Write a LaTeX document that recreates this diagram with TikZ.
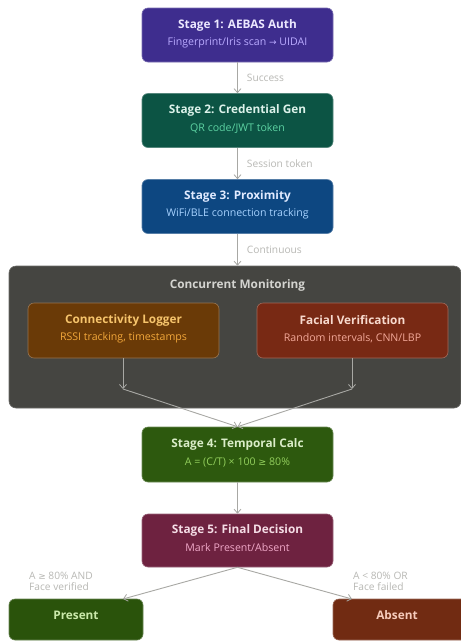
\documentclass[tikz,border=0pt]{standalone}
\usepackage{fontspec}
\setmainfont{Open Sans}
\newfontfamily\symf{DejaVu Sans}
\usetikzlibrary{arrows.meta,calc}
\definecolor{arrowc}{HTML}{A8A8A4}
\definecolor{lblc}{HTML}{B8B8B4}
\definecolor{sAfill}{HTML}{3E2D8E}\definecolor{sAt}{HTML}{ECE8FF}\definecolor{sAs}{HTML}{B9AAFF}
\definecolor{sBfill}{HTML}{0C5444}\definecolor{sBt}{HTML}{DCF2EA}\definecolor{sBs}{HTML}{5CD2A2}
\definecolor{sCfill}{HTML}{0D4781}\definecolor{sCt}{HTML}{E0EAFF}\definecolor{sCs}{HTML}{A6D2FF}
\definecolor{contfill}{HTML}{454541}\definecolor{contt}{HTML}{D4D4D0}
\definecolor{logfill}{HTML}{6A3A07}\definecolor{logt}{HTML}{F6C46C}\definecolor{logs}{HTML}{F2A73A}
\definecolor{facfill}{HTML}{782914}\definecolor{fact}{HTML}{F8DACE}\definecolor{facs}{HTML}{F2A898}
\definecolor{sDfill}{HTML}{2D590E}\definecolor{sDt}{HTML}{DAEDC8}\definecolor{sDs}{HTML}{92CE5C}
\definecolor{sEfill}{HTML}{6E2240}\definecolor{sEt}{HTML}{F5DDE6}\definecolor{sEs}{HTML}{F0A8C8}
\definecolor{presfill}{HTML}{2A530B}\definecolor{prest}{HTML}{CAE9AA}
\definecolor{absfill}{HTML}{712B12}\definecolor{abst}{HTML}{F6CBBB}
\tikzset{
  box/.style={draw=#1!70!white, fill=#1, line width=0.6pt, rounded corners=6pt, minimum width=191pt, minimum height=54pt, inner sep=0pt},
  ttl/.style={font=\bfseries\fontsize{11.8}{13}\selectfont, text=#1, inner sep=0pt},
  sub/.style={font=\fontsize{10.6}{12}\selectfont, text=#1, inner sep=0pt},
  conn/.style={draw=arrowc, line width=0.9pt, -{Straight Barb[length=4pt,width=7pt,line width=0.8pt]}},
  lbl/.style={font=\fontsize{10.2}{11}\selectfont, text=lblc, inner sep=0pt, align=left}
}
\begin{document}
\begin{tikzpicture}[x=1pt,y=-1pt]
\useasboundingbox (0,0) rectangle (461,641);
\clip (0,0) rectangle (461,641);
\fill[white] (0,0) rectangle (461,641);

% container
\node[draw=contfill!80!white, fill=contfill, rounded corners=7pt, minimum width=452pt, minimum height=142pt, inner sep=0pt, line width=0.6pt] (cont) at (235,337) {};
\node[ttl=contt] (contt) at (237.5,285) {Concurrent Monitoring};

% stages
\node[box=sAfill] (s1) at (237.5,35) {};
\node[ttl=sAt] (s1t) at ($(s1.center)+(0,-10)$) {Stage 1: AEBAS Auth};
\node[sub=sAs] (s1s) at ($(s1.center)+(0,7.5)$) {Fingerprint/Iris scan {\symf\fontsize{9}{10}\selectfont →} UIDAI};

\node[box=sBfill] (s2) at (237.5,120.5) {};
\node[ttl=sBt] (s2t) at ($(s2.center)+(0,-10)$) {Stage 2: Credential Gen};
\node[sub=sBs] (s2s) at ($(s2.center)+(0,7.5)$) {QR code/JWT token};

\node[box=sCfill] (s3) at (237.5,206.5) {};
\node[ttl=sCt] (s3t) at ($(s3.center)+(0,-10)$) {Stage 3: Proximity};
\node[sub=sCs] (s3s) at ($(s3.center)+(0,7.5)$) {WiFi/BLE connection tracking};

\node[box=logfill, minimum height=55pt] (lg) at (123.5,330.5) {};
\node[ttl=logt] (lgt) at ($(lg.center)+(0,-10)$) {Connectivity Logger};
\node[sub=logs] (lgs) at ($(lg.center)+(0,7.5)$) {RSSI tracking, timestamps};

\node[box=facfill, minimum height=55pt] (fv) at (352.5,330.5) {};
\node[ttl=fact] (fvt) at ($(fv.center)+(0,-10)$) {Facial Verification};
\node[sub=facs] (fvs) at ($(fv.center)+(0,7.5)$) {Random intervals, CNN/LBP};

\node[box=sDfill, minimum height=55pt] (s4) at (237.5,454.5) {};
\node[ttl=sDt] (s4t) at ($(s4.center)+(0,-10)$) {Stage 4: Temporal Calc};
\node[sub=sDs] (s4s) at ($(s4.center)+(0,7.5)$) {A = (C/T) × 100 {\symf\fontsize{9.5}{10}\selectfont ≥} 80\%};

\node[box=sEfill, minimum height=53pt] (s5) at (237.5,540.5) {};
\node[ttl=sEt] (s5t) at ($(s5.center)+(0,-10)$) {Stage 5: Final Decision};
\node[sub=sEs] (s5s) at ($(s5.center)+(0,7.5)$) {Mark Present/Absent};

\node[box=presfill, minimum width=134pt, minimum height=41pt] (pr) at (76,619.5) {};
\node[ttl=prest] (prt) at ($(pr.center)+(0,-4)$) {Present};
\node[box=absfill, minimum width=134pt, minimum height=41pt] (ab) at (400,619.5) {};
\node[ttl=abst] (abt) at (397,615.5) {Absent};

% connectors
\draw[conn] (s1.south) -- (s2.north) node[midway, right=9pt, lbl] (l1) {Success};
\draw[conn] (s2.south) -- (s3.north) node[midway, right=9pt, lbl] (l2) {Session token};
\draw[conn] (s3.south) -- (cont.north -| s3.south) node[midway, right=9pt, lbl] (l3) {Continuous};

\coordinate (jl) at (123,389);
\coordinate (jr) at (352,389);
\draw[conn] (lg.south -| jl) -- (jl);
\draw[conn] (fv.south -| jr) -- (jr);
\draw[conn] (jl) -- (s4.north);
\draw[conn] (jr) -- (s4.north);
\draw[conn] (s4.south) -- (s5.north);

\coordinate (pe) at (123,599);
\coordinate (ae) at (352,599);
\draw[conn] (s5.south) -- (pe);
\draw[conn] (s5.south) -- (ae);

\node[lbl, anchor=north west] (lp) at (29,572) {A {\symf\fontsize{9}{10}\selectfont ≥} 80\% AND\\[-0.5pt]Face verified};
\node[lbl, anchor=north west] (la) at (353,572) {A < 80\% OR\\[-0.5pt]Face failed};
\end{tikzpicture}
\end{document}
